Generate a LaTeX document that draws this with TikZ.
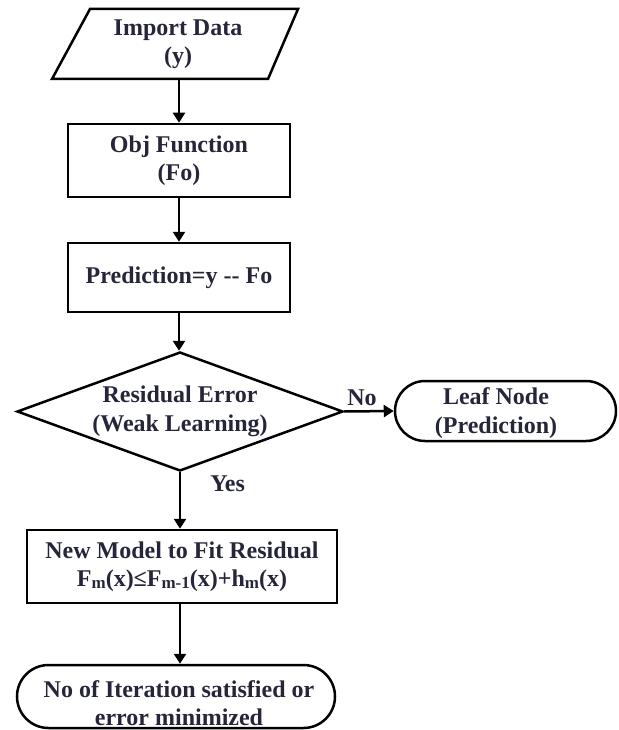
\documentclass[tikz,border=0pt]{standalone}
\usepackage{fontspec}
\setmainfont{Liberation Serif}
\usetikzlibrary{arrows.meta,shapes.geometric,shapes.misc}
\definecolor{txt}{HTML}{26263A}
\newcommand\smallm[1]{\raisebox{-1.5pt}{\fontsize{17}{17}\selectfont #1}}
\begin{document}
\begin{tikzpicture}[x=1pt,y=1pt,
  every node/.style={font=\fontsize{24}{28.5}\selectfont\bfseries, text=txt, align=center, inner sep=0pt},
  shapeline/.style={draw=black, line width=2.5pt, line join=miter},
  procbox/.style={shapeline, rectangle},
  termbox/.style={shapeline, rounded rectangle},
  decbox/.style={shapeline, diamond, aspect=2.74},
  flow/.style={draw=black, line width=2.5pt, -{Triangle[length=10pt,width=12pt]}},
  lbl/.style={font=\fontsize{24}{28}\selectfont\bfseries}
]
\useasboundingbox (0,0) rectangle (618,-730);

% Import data (parallelogram)
\node[minimum width=216pt, minimum height=70pt] (imp) at (178,-44) {Import Data\\(y)};
\draw[shapeline] (90,-9) -- (298,-9) -- (268,-79) -- (52,-79) -- cycle;

\node[procbox, minimum width=222pt, minimum height=73pt] (obj) at (179,-160.5) {Obj Function\\(Fo)};
\node[procbox, minimum width=222pt, minimum height=69pt] (pred) at (179,-277.5) {Prediction=y -{}- Fo};
\node[decbox, minimum width=326pt, minimum height=119pt] (dec) at (180,-411.5) {Residual Error\\(Weak Learning)};
\node[termbox, minimum width=221pt, minimum height=60pt] (leaf) at (505.5,-411) {};
\node (leaftxt) at (496,-413) {Leaf Node\\(Prediction)};
\node[procbox, minimum width=310pt, minimum height=73pt] (newm) at (182,-566.5) {New Model to Fit Residual\\F\smallm{m}(x)≤F\smallm{m-1}(x)+h\smallm{m}(x)};
\node[termbox, minimum width=318pt, minimum height=63pt] (term) at (176,-696.5) {};
\node (termtxt) at (179,-703) {No of Iteration satisfied or\\error minimized};

\draw[flow] (imp.south -| obj.north) -- (obj.north);
\draw[flow] (obj.south) -- (pred.north);
\draw[flow] (pred.south) -- (pred.south |- dec.north);
\draw[flow] (dec.east) -- node[lbl, above=4pt, xshift=-7pt] (no) {No} (leaf.west);
\draw[flow] (dec.south) -- node[lbl, pos=0.2, right=29pt] (yes) {Yes} (dec.south |- newm.north);
\draw[flow] (dec.south |- newm.south) -- (dec.south |- term.north);
\end{tikzpicture}
\end{document}
